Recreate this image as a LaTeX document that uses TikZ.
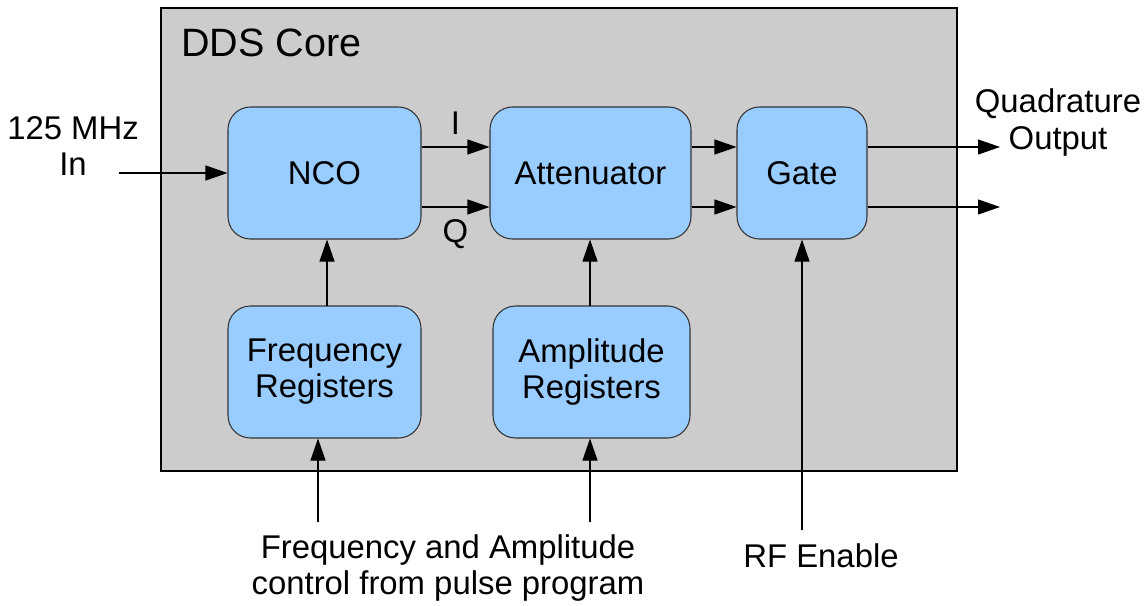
\documentclass[tikz,border=0pt]{standalone}
\usepackage{fontspec}
\setmainfont{Liberation Sans}
\usetikzlibrary{arrows.meta}

\definecolor{coregray}{HTML}{CCCCCC}
\definecolor{blockblue}{HTML}{99CCFF}

\begin{document}
\begin{tikzpicture}[
		font=\fontsize{18.7}{20.5}\selectfont,
		blk/.style={draw=black!80, line width=0.6pt, fill=blockblue, rounded corners=0.45cm,
			minimum height=2.64cm, align=center, inner sep=0pt},
		sig/.style={line width=0.6pt, -{Triangle[length=0.44cm,width=0.3cm]}},
		lbl/.style={align=center, inner sep=0pt}
	]
		\useasboundingbox (0,0) rectangle (22.96,-12.1);
		% core box
		\draw[fill=coregray, line width=0.6pt] (3.22,-0.16) rectangle (19.14,-9.42);
		\node[anchor=base west, inner sep=0pt, font=\fontsize{22.5}{26}\selectfont] (core) at (3.62,-1.14) {DDS Core};
		% blocks
		\node[blk, minimum width=3.86cm] (nco) at (6.49,-3.46) {NCO};
		\node[blk, minimum width=4.02cm] (att) at (11.81,-3.46) {Attenuator};
		\node[blk, minimum width=2.6cm] (gate) at (16.04,-3.46) {Gate};
		\node[blk, minimum width=3.86cm] (freq) at (6.49,-7.44) {Frequency\\Registers};
		\node[blk, minimum width=3.94cm] (amp) at (11.83,-7.44) {Amplitude\\Registers};
		% outside labels
		\node[lbl] (clk) at (1.46,-2.92) {125 MHz\\In};
		\node[lbl] (quad) at (21.16,-2.45) {Quadrature\\Output};
		\node[lbl] (ctrl) at (8.96,-11.36) {Frequency and Amplitude\\control from pulse program};
		\node[lbl] (rfen) at (16.42,-11.12) {RF Enable};
		\coordinate (clkin) at (2.38,-3.46);
		\coordinate (outi) at (20.0,-2.94);
		\coordinate (outq) at (20.0,-4.14);
		\coordinate (nfreq) at (6.54,-6.12);
		\coordinate (namp) at (11.80,-6.12);
		\coordinate (freqin) at (6.36,-10.44);
		\coordinate (ampin) at (11.80,-10.44);
		\coordinate (rfin) at (16.04,-10.6);
		% signals
		\draw[sig] (clkin) -- (nco.west);
		\draw[sig] (nco.east |- outi) -- node[above=0.12cm] (ilab) {I} (att.west |- outi);
		\draw[sig] (nco.east |- outq) -- node[below=0.12cm] (qlab) {Q} (att.west |- outq);
		\draw[sig] (att.east |- outi) -- (gate.west |- outi);
		\draw[sig] (att.east |- outq) -- (gate.west |- outq);
		\draw[sig] (gate.east |- outi) -- (outi);
		\draw[sig] (gate.east |- outq) -- (outq);
		\draw[sig] (nfreq) -- (nfreq |- nco.south);
		\draw[sig] (namp) -- (namp |- att.south);
		\draw[sig] (freqin) -- (freqin |- freq.south);
		\draw[sig] (ampin) -- (ampin |- amp.south);
		\draw[sig] (rfin) -- (gate.south);
	\end{tikzpicture}
\end{document}
